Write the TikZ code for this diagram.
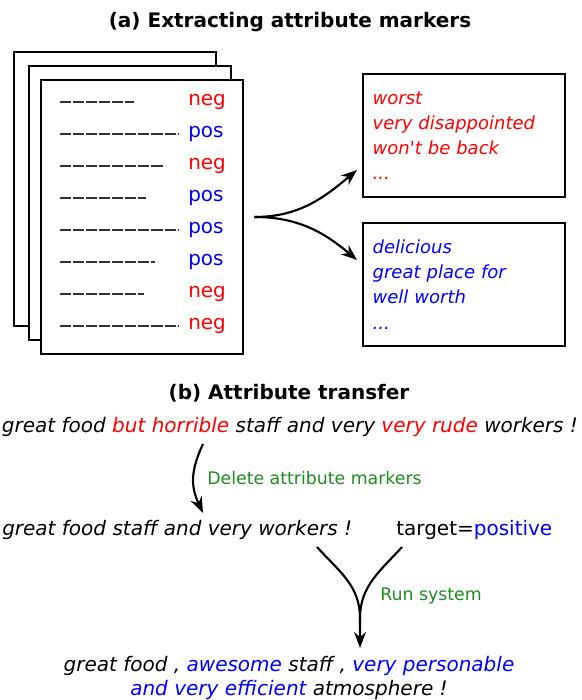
\documentclass[tikz,border=0pt]{standalone}
\usepackage{fontspec}
\setmainfont{DejaVu Sans}
\usetikzlibrary{arrows.meta}
\definecolor{labelgreen}{RGB}{30,140,30}

\begin{document}
\begin{tikzpicture}[x=0.75pt,y=0.75pt]

% definitions
\tikzstyle{page} = [rectangle, anchor=north west, minimum width=151.5pt, minimum height=205.5pt, outer sep=0pt, draw=black, line width=0.8pt, fill=white]
\tikzstyle{dashline} = [draw=black!80, line width=0.8pt, dash pattern=on 8.3pt off 1.5pt]
\tikzstyle{tag} = [anchor=west, inner sep=0pt, font=\fontsize{15}{18}\selectfont]
\tikzstyle{listbox} = [rectangle, minimum width=151.5pt, minimum height=92.25pt, text width=137pt, inner xsep=7pt, outer sep=0pt, align=left, draw=black, line width=0.8pt, font=\fontsize{13.5}{18.9}\selectfont\itshape]
\tikzstyle{title} = [inner sep=0pt, font=\fontsize{15}{18}\selectfont\bfseries]
\tikzstyle{sent} = [inner sep=0pt, font=\fontsize{15}{18}\selectfont\itshape]
\tikzstyle{lbl} = [anchor=west, inner sep=0pt, text=labelgreen, font=\fontsize{13}{16}\selectfont]

\tikzstyle{arrow} = [-{Stealth[length=12pt,width=9pt]}, line width=1.6pt]

\useasboundingbox (0,0) rectangle (582,700);

% (a) the graph
\node (ta) [title] at (290,678) {(a) Extracting attribute markers};

\node (back) [page] at (14,648) {};
\node (mid) [page] at (29,634) {};
\node (front) [page] at (41,620) {};

\draw [dashline] (60,598) -- (134,598);
\draw [dashline] (60,566) -- (178,566);
\draw [dashline] (60,534) -- (163,534);
\draw [dashline] (60,502) -- (146,502);
\draw [dashline] (60,470) -- (178,470);
\draw [dashline] (60,438) -- (155,438);
\draw [dashline] (60,406) -- (144,406);
\draw [dashline] (60,374) -- (178,374);

\node (r1) [tag, text=red] at (188,598) {neg};
\node (r2) [tag, text=blue] at (188,566) {pos};
\node (r3) [tag, text=red] at (188,534) {neg};
\node (r4) [tag, text=blue] at (188,502) {pos};
\node (r5) [tag, text=blue] at (188,470) {pos};
\node (r6) [tag, text=blue] at (188,438) {pos};
\node (r7) [tag, text=red] at (188,406) {neg};
\node (r8) [tag, text=red] at (188,374) {neg};

\node (negbox) [listbox, text=red] at (464,564.5) {worst\\very disappointed\\won\textquotesingle t be back\\...};
\node (posbox) [listbox, text=blue] at (464,415.5) {delicious\\great place for\\well worth\\...};

\coordinate (split) at ([xshift=8.5pt]front.east);
\coordinate (tipneg) at (357,530);
\coordinate (tippos) at (357,440);

\draw [arrow] (split) to [out=0,in=220] (tipneg);
\draw [arrow] (split) to [out=0,in=140] (tippos);

% (b) the graph
\node (tb) [title] at (289,307) {(b) Attribute transfer};

\node (s1) [sent] at (290,273) {great food \textcolor{red}{but horrible} staff and very \textcolor{red}{very rude} workers !};
\node (s2) [sent, anchor=west] at (2,170) {great food staff and very workers !};
\node (tgt) [tag] at (396,170) {target=\textcolor{blue}{positive}};
\node (s3) [sent, align=center] at (289,22) {great food , \textcolor{blue}{awesome} staff , \textcolor{blue}{very personable}\\\textcolor{blue}{and very efficient} atmosphere !};

\coordinate (del1) at (203,256);
\coordinate (del2) at (203,187);
\draw [arrow] (del1) to [out=245,in=115, looseness=1.1] (del2);
\node (dl) [lbl] at (207,222) {Delete attribute markers};

\coordinate (runa) at (317,153);
\coordinate (runb) at (402,153);
\coordinate (runm) at (360,82);
\coordinate (runt) at (360,52);
\draw [line width=1.6pt] (runb) to [out=228,in=90] (runm);
\draw [arrow] (runa) to [out=-48,in=90] (runm) -- (runt);
\node (rl) [lbl] at (380,104) {Run system};

\end{tikzpicture}
\end{document}
